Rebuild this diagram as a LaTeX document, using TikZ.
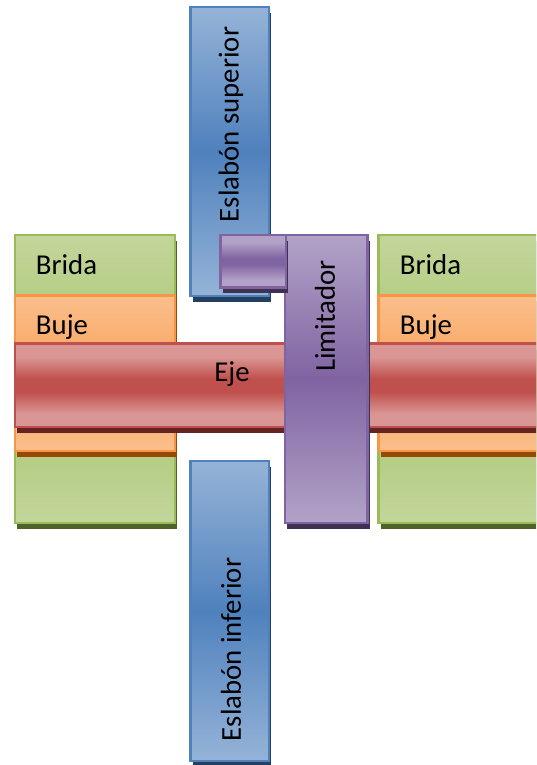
\documentclass[tikz,border=0pt]{standalone}
\usepackage{fontspec}
\setmainfont{Carlito}
\usetikzlibrary{shadows}
\definecolor{verdeL}{HTML}{C3D69B}
\definecolor{verdeM}{HTML}{9BBB59}
\definecolor{verdeD}{HTML}{4F6228}
\definecolor{naranjaL}{HTML}{FBBF8C}
\definecolor{naranjaM}{HTML}{F79646}
\definecolor{naranjaD}{HTML}{974806}
\definecolor{rojoL}{HTML}{D99694}
\definecolor{rojoM}{HTML}{C0504D}
\definecolor{rojoD}{HTML}{632423}
\definecolor{moradoL}{HTML}{B2A2C7}
\definecolor{moradoM}{HTML}{8064A2}
\definecolor{moradoD}{HTML}{3F3151}
\definecolor{azulL}{HTML}{95B3D7}
\definecolor{azulM}{HTML}{4F81BD}
\definecolor{azulD}{HTML}{244061}
\pgfdeclareverticalshading{ejeshade}{100bp}{color(0bp)=(rojoL); color(25bp)=(rojoL); color(33bp)=(rojoL); color(46bp)=(rojoM); color(54bp)=(rojoM); color(67bp)=(rojoL); color(75bp)=(rojoL); color(100bp)=(rojoL)}
\pgfdeclareverticalshading{topeshade}{100bp}{color(0bp)=(moradoL); color(25bp)=(moradoL); color(32bp)=(moradoL); color(47bp)=(moradoM); color(53bp)=(moradoM); color(68bp)=(moradoL); color(75bp)=(moradoL); color(100bp)=(moradoL)}
\begin{document}
\begin{tikzpicture}[x=1pt,y=-1pt,
                    pieza/.style={rectangle, anchor=north west, inner sep=0pt, outer sep=0pt, line width=2.4pt},
                    bridanode/.style={pieza, draw=verdeM, top color=verdeL, bottom color=verdeL, middle color=verdeM!75!verdeL, minimum height=288pt,
                                      drop shadow={shadow xshift=2.3pt, shadow yshift=-6pt, opacity=1, fill=verdeD}},
                    bujenode/.style={pieza, draw=naranjaM, top color=naranjaL, bottom color=naranjaL, middle color=naranjaM!70!naranjaL, minimum height=155.7pt,
                                     drop shadow={shadow xshift=2.3pt, shadow yshift=-6pt, opacity=1, fill=naranjaD}},
                    ejenode/.style={pieza, draw=rojoM, shading=ejeshade, minimum height=83.5pt,
                                    drop shadow={shadow xshift=2.3pt, shadow yshift=-6pt, opacity=1, fill=rojoD}},
                    limitnode/.style={pieza, draw=moradoM, top color=moradoL, bottom color=moradoL, middle color=moradoM,
                                      drop shadow={shadow xshift=2.3pt, shadow yshift=-6pt, opacity=1, fill=moradoD}},
                    topenode/.style={limitnode, shading=topeshade},
                    eslabonnode/.style={pieza, draw=azulM, top color=azulL, bottom color=azulL, middle color=azulM, minimum width=178.5pt,
                                        drop shadow={shadow xshift=2.3pt, shadow yshift=-6pt, opacity=1, fill=azulD}},
                    textonode/.style={inner sep=0pt, font=\fontsize{28.8}{29}\selectfont, text=black}
                   ]
\clip (0,0) rectangle (536,765);
%Nodes
\node[bridanode, minimum width=160pt] (bridaizq) at (14.7,235) {};
\node[bridanode, minimum width=170pt] (bridader) at (378.5,235) {};
\node[bujenode, minimum width=160pt] (bujeizq) at (14.7,295.3) {};
\node[bujenode, minimum width=170pt] (bujeder) at (378.5,295.3) {};
\node[ejenode, minimum width=535pt] (eje) at (14.7,343.5) {};
\node[eslabonnode, minimum width=78.5pt, minimum height=288.7pt] (superior) at (190.5,7) {};
\node[eslabonnode, minimum width=78.5pt, minimum height=300pt] (inferior) at (190.5,461) {};
\node[limitnode, minimum width=82.6pt, minimum height=288pt] (limitador) at (284.7,235) {};
\node[topenode, minimum width=65.2pt, minimum height=52.3pt] (tope) at (220.5,235) {};
% %Labels
\node[textonode] (t1) at (66.5,265) {Brida};
\node[textonode] (t2) at (430.5,265) {Brida};
\node[textonode] (t3) at (62,327) {Buje};
\node[textonode] (t4) at (426,327) {Buje};
\node[textonode] (t5) at (232,374) {Eje};
\node[textonode, rotate=90] (t6) at (231,124.5) {Eslabón superior};
\node[textonode, rotate=90] (t7) at (231,649.5) {Eslabón inferior};
\node[textonode, rotate=90] (t8) at (325,316) {Limitador};
\end{tikzpicture}
\end{document}
